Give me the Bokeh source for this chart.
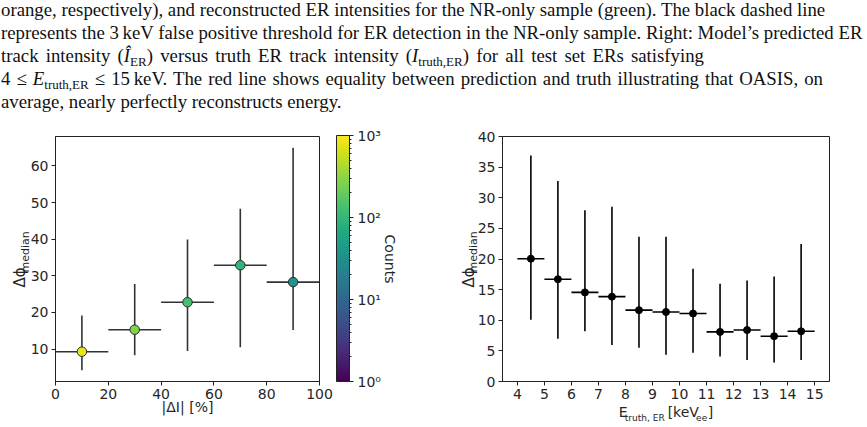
import numpy as np
from bokeh.plotting import figure
from bokeh.models import (ColumnDataSource, LogColorMapper, ColorBar, Title, LinearAxis,
                          CustomJSTickFormatter, Div, FixedTicker, Range1d)
from bokeh.layouts import column, row
from bokeh.palettes import Viridis256
from bokeh.embed import file_html
from bokeh.resources import INLINE

# ---- left panel: angular resolution vs. intensity error ----
di_centers = [10, 30, 50, 70, 90]
di_halfwidth = [10, 10, 10, 10, 10]
dphi_left = [9.3, 15.3, 22.8, 32.9, 28.3]
dphi_left_lo = [4.2, 8.3, 9.5, 10.5, 15.2]
dphi_left_hi = [19.2, 27.8, 39.9, 48.3, 65.0]
counts = [800, 260, 130, 95, 33]

# ---- right panel: angular resolution vs. truth ER energy ----
e_centers = [4.5, 5.5, 6.5, 7.5, 8.5, 9.5, 10.5, 11.5, 12.5, 13.5, 14.5]
e_halfwidth = [0.5] * 11
dphi_right = [20.05, 16.7, 14.55, 13.85, 11.65, 11.35, 11.1, 8.1, 8.4, 7.4, 8.2]
dphi_right_lo = [10.1, 7.0, 8.2, 5.95, 5.5, 4.35, 4.7, 4.1, 3.5, 3.1, 3.5]
dphi_right_hi = [36.9, 32.75, 27.95, 28.55, 23.65, 23.65, 18.4, 15.95, 16.5, 17.15, 22.45]

left_xticks = [0, 20, 40, 60, 80, 100]
left_yticks = [10, 20, 30, 40, 50, 60]
right_xticks = list(range(4, 16))
right_yticks = [0, 5, 10, 15, 20, 25, 30, 35, 40]
cbar_major = [1, 10, 100, 1000]
cbar_minor = [m * d for d in (1, 10, 100) for m in range(2, 10)]

caption_lines = [
    "orange, respectively), and reconstructed ER intensities for the NR-only sample (green). The black dashed line",
    "represents the 3&#8201;keV false positive threshold for ER detection in the NR-only sample. Right: Model&#8217;s predicted ER",
    "track intensity (<i>&#206;</i><span class='sb'>ER</span>) versus truth ER track intensity (<i>I</i><span class='sb'>truth,ER</span>) for all test set ERs satisfying",
    "4 &#8804; <i>E</i><span class='sb'>truth,ER</span> &#8804; 15&#8201;keV. The red line shows equality between prediction and truth illustrating that OASIS, on",
    "average, nearly perfectly reconstructs energy.",
]
caption_widths = [None, None, 703, 822, None]

FONT = "DejaVu Sans"
TXT = "#262626"
NB = "\u00a0"


def style_axes(p, xticks, yticks):
    p.outline_line_color = "#222222"
    p.outline_line_width = 1
    p.grid.visible = False
    p.xaxis.ticker = FixedTicker(ticks=xticks)
    p.yaxis.ticker = FixedTicker(ticks=yticks)
    for ax in (p.xaxis, p.yaxis):
        ax.axis_line_color = "#222222"
        ax.major_tick_line_color = "#222222"
        ax.major_tick_out = 4
        ax.major_tick_in = 0
        ax.minor_tick_line_color = None
        ax.major_label_text_font = FONT
        ax.major_label_text_font_size = "14px"
        ax.major_label_text_color = TXT
        ax.major_label_standoff = 3


def label_axis(ax, text, size="14px", standoff=0):
    ax.axis_label = text
    ax.axis_label_text_font = FONT
    ax.axis_label_text_font_size = size
    ax.axis_label_text_font_style = "normal"
    ax.axis_label_text_color = TXT
    ax.axis_label_standoff = standoff


def side_title(p, side, text, size="14px", align="left", offset=0, standoff=0):
    p.add_layout(Title(text=text, align=align, offset=offset, standoff=standoff,
                       text_font=FONT, text_font_size=size, text_color=TXT,
                       text_font_style="normal"), side)


# ---------------- left figure ----------------
x = np.array(di_centers, float)
hw = np.array(di_halfwidth, float)
src_l = ColumnDataSource(dict(
    x=x, y=dphi_left, x0=x - hw, x1=x + hw, lo=dphi_left_lo, hi=dphi_left_hi, c=counts))

mapper = LogColorMapper(palette=Viridis256, low=1, high=1000)

pl = figure(width=433, height=307, output_backend="svg", toolbar_location=None,
            x_range=Range1d(0, 100), y_range=Range1d(1.16, 68.04),
            min_border_left=55, min_border_right=114, min_border_top=15, min_border_bottom=46)
style_axes(pl, left_xticks, left_yticks)
pl.segment("x0", "y", "x1", "y", source=src_l, line_color="#333333", line_width=1.6)
pl.segment("x", "lo", "x", "hi", source=src_l, line_color="#333333", line_width=1.6)
pl.scatter("x", "y", source=src_l, size=9.5, line_color="#2a2a2a", line_width=1,
           fill_color={"field": "c", "transform": mapper})

label_axis(pl.xaxis[0], "|\u0394I| [%]", standoff=-3)

sup = CustomJSTickFormatter(code="""
const s = {"0":"\u2070","1":"\u00b9","2":"\u00b2","3":"\u00b3","-":"\u207b"};
const e = Math.round(Math.log10(tick));
return "10" + String(e).split("").map(c => s[c]).join("");
""")
cb = ColorBar(color_mapper=mapper, ticker=FixedTicker(ticks=cbar_major, minor_ticks=cbar_minor),
              formatter=sup,
              width=13, height=246, padding=0, margin=0, location=(17, 0),
              background_fill_alpha=0, border_line_color=None,
              bar_line_color="#222222", bar_line_width=1,
              major_tick_out=4, major_tick_in=0, minor_tick_out=2, minor_tick_in=0,
              major_tick_line_color="#222222", minor_tick_line_color="#222222",
              major_label_text_font=FONT, major_label_text_font_size="14px",
              major_label_text_color=TXT, label_standoff=4)
pl.add_layout(cb, "right")
side_title(pl, "right", "Counts", align="center", standoff=-4)

# y title: delta-phi with a "median" subscript
side_title(pl, "left", "median", size="11px", offset=109, standoff=-9)
side_title(pl, "left", "\u0394\u03d5", size="15px", offset=94, standoff=-15)

# ---------------- right figure ----------------
e = np.array(e_centers, float)
ehw = np.array(e_halfwidth, float)
src_r = ColumnDataSource(dict(
    x=e, y=dphi_right, x0=e - ehw, x1=e + ehw, lo=dphi_right_lo, hi=dphi_right_hi))

pr = figure(width=434, height=307, output_backend="svg", toolbar_location=None,
            x_range=Range1d(3.45, 15.55), y_range=Range1d(0, 40),
            min_border_left=69, min_border_right=38, min_border_top=16, min_border_bottom=46)
style_axes(pr, right_xticks, right_yticks)
pr.segment("x0", "y", "x1", "y", source=src_r, line_color="black", line_width=1.6)
pr.segment("x", "lo", "x", "hi", source=src_r, line_color="black", line_width=1.6)
pr.scatter("x", "y", source=src_r, size=7, line_color="black", fill_color="black")

# x title: E_{truth, ER} [keV_{ee}] -- main row on the x axis, subscripts on a bare axis below
label_axis(pr.xaxis[0], "E" + NB * 9 + "[keV" + NB * 2 + "]", standoff=2)
sub_axis = LinearAxis(ticker=FixedTicker(ticks=[]), axis_line_color=None,
                      major_tick_line_color=None, minor_tick_line_color=None)
label_axis(sub_axis, "truth, ER" + NB * 11 + "ee", size="9px", standoff=-10)
pr.add_layout(sub_axis, "below")

side_title(pr, "left", "median", size="11px", offset=109, standoff=-10)
side_title(pr, "left", "\u0394\u03d5", size="15px", offset=94, standoff=-17)

# ---------------- caption ----------------
line_top0, line_step = 0.5, 23.0
rows = []
for i, (t, w) in enumerate(zip(caption_lines, caption_widths)):
    width_css = (f"width:{w}px;text-align:justify;text-align-last:justify;"
                 if w else "white-space:nowrap;")
    rows.append(f"<div style='position:absolute;left:1px;top:{line_top0 + i * line_step:.1f}px;"
                f"{width_css}line-height:1'>{t}</div>")
caption = Div(
    text=("<style>.sb{font-size:13px;position:relative;top:4px}</style>"
          "<div style='position:relative;width:867px;height:120px;overflow:hidden;"
          "font-family:\"Liberation Serif\";font-size:18.8px;color:#111'>" + "".join(rows) + "</div>"),
    width=867, height=120, margin=(0, 0, 0, 0))

layout = column(caption, row(pl, pr, spacing=0), spacing=0)
open("out.html", "w").write(file_html(layout, INLINE))
